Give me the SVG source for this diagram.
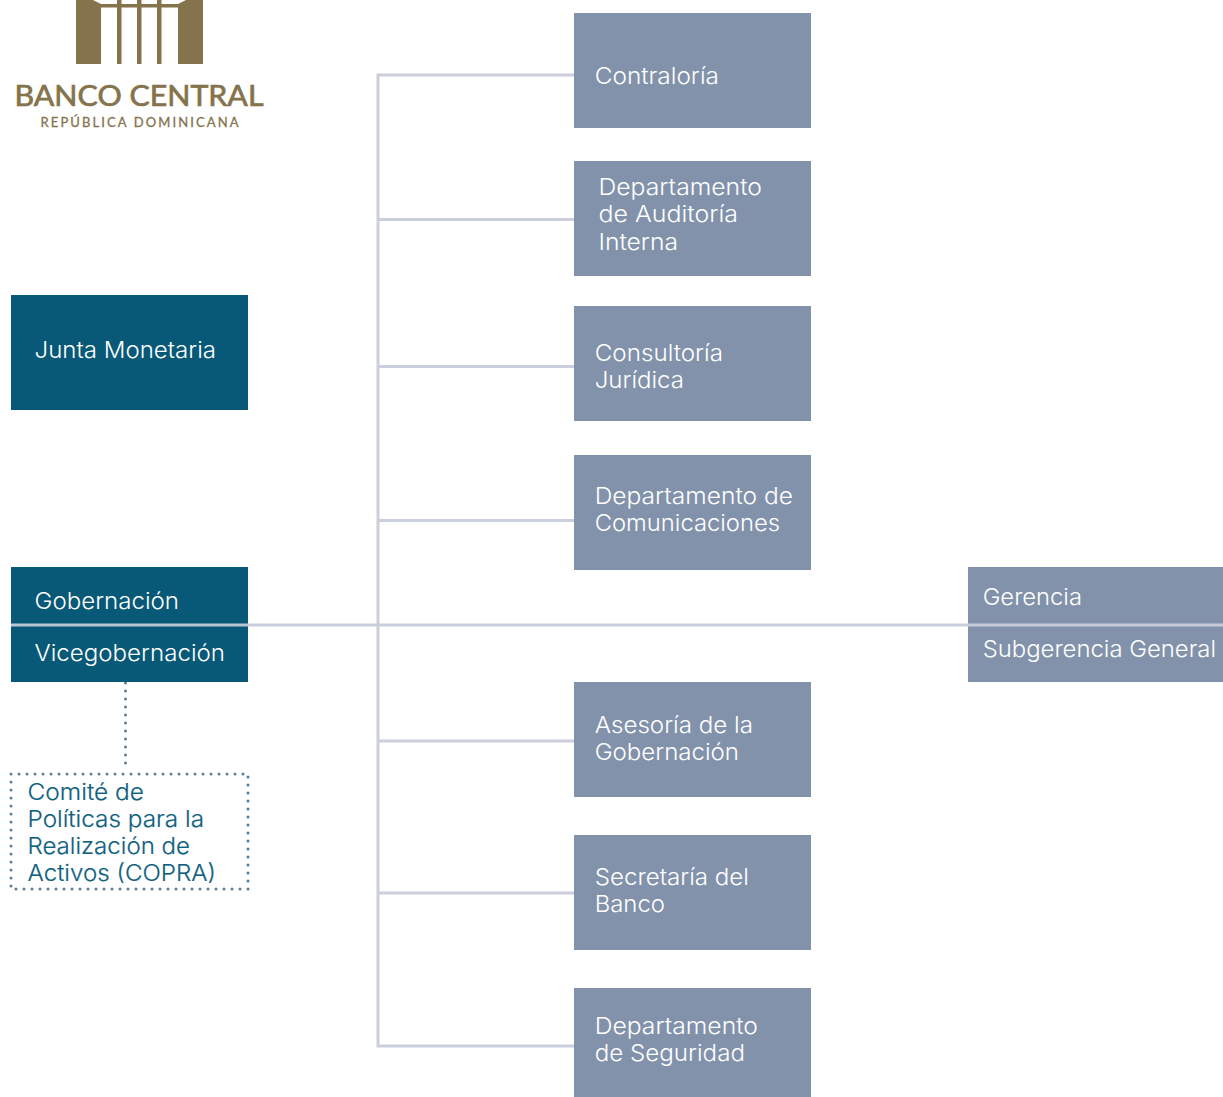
<svg xmlns="http://www.w3.org/2000/svg" width="1223" height="1097" viewBox="0 0 1223 1097">
<style>
text{font-family:"Inter","Noto Sans",sans-serif;font-size:23px;font-weight:300}
.w{fill:#fff}
.c{fill:#10617f;font-weight:300;stroke:#10617f;stroke-width:.2}
.navy{fill:#085877}
.grey{fill:#8292ab}
.ln{fill:none;stroke:#cbcedd;stroke-width:3}
.dot{fill:none;stroke:#5f7c98;stroke-width:3;stroke-linecap:round;stroke-dasharray:0 8}
.gold{fill:#84734b}
.lg{font-family:"Lato","Noto Sans",sans-serif;fill:#84734b;stroke:#84734b}
</style>
<g id="logo">
<rect class="gold" x="76" y="0" width="25" height="64"/>
<rect class="gold" x="178" y="0" width="25" height="64"/>
<rect class="gold" x="117" y="0" width="4.500" height="64"/>
<rect class="gold" x="137" y="0" width="4.500" height="64"/>
<rect class="gold" x="157" y="0" width="4.500" height="64"/>
<rect class="gold" x="100" y="4" width="80" height="3.500"/>
<path fill="#fff" d="M93 0H101V4ZM186 0H178V4Z"/>
<text class="lg" x="14.500" y="106" style="font-size:28.500px;font-weight:400;stroke-width:.7" textLength="249" lengthAdjust="spacingAndGlyphs">BANCO CENTRAL</text>
<text class="lg" x="40.500" y="127" style="font-size:13px;font-weight:400;stroke-width:.3" textLength="198" lengthAdjust="spacing">REPÚBLICA DOMINICANA</text>
</g>
<g id="connectors">
<path class="ln" d="M574 75H378V1046H574M378 219.500H574M378 366.500H574M378 520.500H574M378 741H574M378 893H574M248 625H968"/>
<path class="dot" d="M125.500 683V770"/>
</g>
<g id="junta"><rect class="navy" x="11" y="295" width="237" height="115"/><text class="w" x="34.500" y="358.300" textLength="181.500" lengthAdjust="spacingAndGlyphs">Junta Monetaria</text></g>
<g id="gobernacion"><rect class="navy" x="11" y="567" width="237" height="115"/><text class="w" x="34.500" y="609.300" textLength="144.500" lengthAdjust="spacingAndGlyphs">Gobernación</text><text class="w" x="34.500" y="661.300" textLength="190.500" lengthAdjust="spacingAndGlyphs">Vicegobernación</text><path d="M11 625H248" stroke="#b9c6d4" stroke-width="3"/></g>
<g id="copra"><rect class="dot" x="11" y="774" width="237" height="115"/><text class="c" x="27.500" y="800.300" textLength="116.500" lengthAdjust="spacingAndGlyphs">Comité de</text><text class="c" x="27.500" y="827.300" textLength="176.500" lengthAdjust="spacingAndGlyphs">Políticas para la</text><text class="c" x="27.500" y="854.300" textLength="162.500" lengthAdjust="spacingAndGlyphs">Realización de</text><text class="c" x="27.500" y="881.300" textLength="188.500" lengthAdjust="spacingAndGlyphs">Activos (COPRA)</text></g>
<g id="contraloria"><rect class="grey" x="574" y="13" width="237" height="115"/><text class="w" x="594.700" y="84.300" textLength="124.300" lengthAdjust="spacingAndGlyphs">Contraloría</text></g>
<g id="auditoria"><rect class="grey" x="574" y="161" width="237" height="115"/><text class="w" x="598.500" y="195.300" textLength="163.500" lengthAdjust="spacingAndGlyphs">Departamento</text><text class="w" x="598.500" y="222.300" textLength="139.500" lengthAdjust="spacingAndGlyphs">de Auditoría</text><text class="w" x="598.500" y="250.300" textLength="79.500" lengthAdjust="spacingAndGlyphs">Interna</text></g>
<g id="juridica"><rect class="grey" x="574" y="306" width="237" height="115"/><text class="w" x="594.700" y="361.300" textLength="128.300" lengthAdjust="spacingAndGlyphs">Consultoría</text><text class="w" x="594.700" y="388.300" textLength="89.300" lengthAdjust="spacingAndGlyphs">Jurídica</text></g>
<g id="comunicaciones"><rect class="grey" x="574" y="455" width="237" height="115"/><text class="w" x="594.700" y="504.300" textLength="198.300" lengthAdjust="spacingAndGlyphs">Departamento de</text><text class="w" x="594.700" y="531.300" textLength="185.300" lengthAdjust="spacingAndGlyphs">Comunicaciones</text></g>
<g id="asesoria"><rect class="grey" x="574" y="682" width="237" height="115"/><text class="w" x="594.700" y="733.300" textLength="158.300" lengthAdjust="spacingAndGlyphs">Asesoría de la</text><text class="w" x="594.700" y="760.300" textLength="144.300" lengthAdjust="spacingAndGlyphs">Gobernación</text></g>
<g id="secretaria"><rect class="grey" x="574" y="835" width="237" height="115"/><text class="w" x="594.700" y="885.300" textLength="154.300" lengthAdjust="spacingAndGlyphs">Secretaría del</text><text class="w" x="594.700" y="912.300" textLength="70.300" lengthAdjust="spacingAndGlyphs">Banco</text></g>
<g id="seguridad"><rect class="grey" x="574" y="988" width="237" height="109"/><text class="w" x="594.700" y="1034.300" textLength="163.300" lengthAdjust="spacingAndGlyphs">Departamento</text><text class="w" x="594.700" y="1061.300" textLength="150.300" lengthAdjust="spacingAndGlyphs">de Seguridad</text></g>
<g id="gerencia"><rect class="grey" x="968" y="567" width="255" height="115"/><text class="w" x="982.700" y="605.300" textLength="99.300" lengthAdjust="spacingAndGlyphs">Gerencia</text><text class="w" x="982.700" y="657.300" textLength="233.300" lengthAdjust="spacingAndGlyphs">Subgerencia General</text><path d="M968 625H1223" stroke="#c5cbd9" stroke-width="3"/></g>
</svg>
